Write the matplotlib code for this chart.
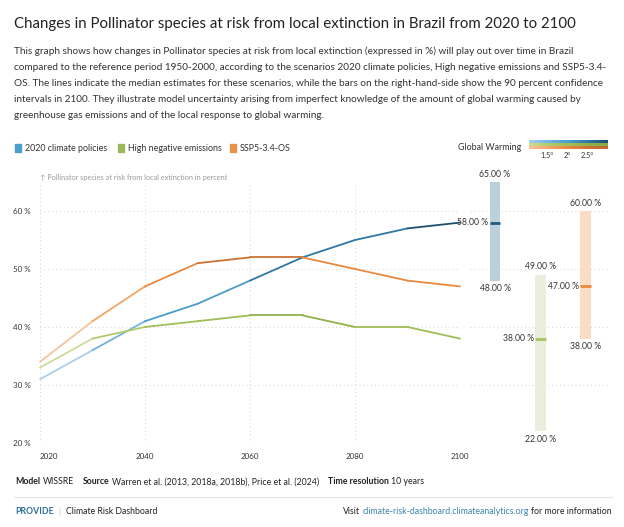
import numpy as np
import matplotlib.pyplot as plt
from matplotlib.colors import LinearSegmentedColormap

plt.rcParams['font.family'] = ['Lato', 'DejaVu Sans']

# dados
years = [2020, 2030, 2040, 2050, 2060, 2070, 2080, 2090, 2100]
policies = [31, 36, 41, 44, 48, 52, 55, 57, 58]
negative = [33, 38, 40, 41, 42, 42, 40, 40, 38]
ssp = [34, 41, 47, 51, 52, 52, 50, 48, 47]

scenarios = ['2020 climate policies', 'High negative emissions', 'SSP5-3.4-OS']
ci_low = [48, 22, 38]
ci_median = [58, 38, 47]
ci_high = [65, 49, 60]

xticks = [2020, 2040, 2060, 2080, 2100]
yticks = [20, 30, 40, 50, 60]

# cores
main_colors = ['#4a9fcf', '#9bb85a', '#e8934a']
shades = {
    0: ['#a8d0ea', '#6fb4de', '#4b9dcc', '#2f78a3', '#1f4e6e'],
    1: ['#cadc98', '#b2cb6c', '#a0bd58', '#93b24c', '#8aa844'],
    2: ['#f6c49a', '#f0a566', '#e8893d', '#cc7234', '#c0682e'],
}
seg_level = {
    0: [0, 1, 2, 2, 3, 3, 3, 4],
    1: [0, 1, 2, 2, 3, 3, 2, 2],
    2: [0, 1, 2, 3, 3, 2, 2, 2],
}
bar_fill = ['#bcd0dc', '#e9efdc', '#fbdcc4']
bar_mid = ['#1f5a80', '#a8c261', '#e88a3e']
txt = '#333333'
grid_c = '#d2d2d2'

W, H = 624, 527
fig = plt.figure(figsize=(W / 100, H / 100), dpi=100)
renderer = fig.canvas.get_renderer()

def fx(px):
    return px / W

def fy(py):
    return 1 - py / H

def chain(x0, y, parts, size):
    # escreve pedacos de texto um apos o outro
    x = x0
    for s, w, c, gap in parts:
        t = fig.text(fx(x), fy(y), s, fontsize=size, color=c, fontweight=w, va='center', ha='left')
        bb = t.get_window_extent(renderer)
        x = x + bb.width + gap
    return x

# titulo e descricao
fig.text(fx(14), fy(24), 'Changes in Pollinator species at risk from local extinction in Brazil from 2020 to 2100',
         fontsize=10.8, color='#222222', va='center', ha='left')
desc = [
    'This graph shows how changes in Pollinator species at risk from local extinction (expressed in %) will play out over time in Brazil',
    'compared to the reference period 1950-2000, according to the scenarios 2020 climate policies, High negative emissions and SSP5-3.4-',
    'OS. The lines indicate the median estimates for these scenarios, while the bars on the right-hand-side show the 90 percent confidence',
    'intervals in 2100. They illustrate model uncertainty arising from imperfect knowledge of the amount of global warming caused by',
    'greenhouse gas emissions and of the local response to global warming.',
]
for i, line in enumerate(desc):
    fig.text(fx(14), fy(51 + i * 16), line, fontsize=7.2, color=txt, va='center', ha='left')

# legenda
leg_x = [15, 118, 230]
for i, name in enumerate(scenarios):
    fig.patches.append(plt.Rectangle((fx(leg_x[i]), fy(152)), 6 / W, 8 / H,
                                     transform=fig.transFigure, color=main_colors[i]))
    fig.text(fx(leg_x[i] + 10), fy(148.5), name, fontsize=6.4, color=txt, va='center', ha='left')

fig.text(fx(521), fy(148), 'Global Warming', fontsize=6.4, color=txt, va='center', ha='right')
gax = fig.add_axes([fx(529), fy(149), 79 / W, 9 / H])
grad = np.linspace(0, 1, 100).reshape(1, -1)
for i in range(3):
    cmap = LinearSegmentedColormap.from_list('g%d' % i, shades[i])
    gax.imshow(grad, aspect='auto', cmap=cmap, extent=[0, 1, 2 - i, 3 - i], origin='lower')
gax.set_xlim(0, 1)
gax.set_ylim(0, 3)
gax.axis('off')
for lab, px in [('1.5°', 547), ('2°', 567), ('2.5°', 587)]:
    fig.text(fx(px), fy(156), lab, fontsize=5.3, color=txt, va='center', ha='center')

# eixo das linhas
ax = fig.add_axes([fx(40), fy(443), 420 / W, 260 / H])
ylim = (20, 20 + 260 / 5.8)
ax.set_xlim(2020, 2100)
ax.set_ylim(*ylim)
for i, series in enumerate([policies, negative, ssp]):
    for k in range(len(years) - 1):
        ax.plot(years[k:k + 2], series[k:k + 2], color=shades[i][seg_level[i][k]],
                lw=1.3, solid_capstyle='round', clip_on=False, zorder=3)
for s in ax.spines.values():
    s.set_visible(False)
ax.set_xticks(xticks)
ax.set_yticks(yticks)
ax.set_yticklabels(['%d %%' % v for v in yticks])
ax.tick_params(length=0, labelsize=5.8, colors=txt, pad=7)
ax.grid(True, linestyle=(0, (1, 3)), color=grid_c, lw=0.7)
ax.set_axisbelow(True)
labs = ax.get_xticklabels()
labs[0].set_ha('left')

fig.text(fx(40), fy(177), '\u2191 Pollinator species at risk from local extinction in percent',
         fontsize=5.3, color='#9a9a9a', va='center', ha='left')

# barras de incerteza
bx = fig.add_axes([fx(470), fy(443), 140 / W, 260 / H])
bx.set_ylim(*ylim)
bx.set_xlim(-0.55, 2.53)
pos = np.arange(len(scenarios))
bx.bar(pos, np.array(ci_high) - np.array(ci_low), bottom=ci_low, width=0.24,
       color=bar_fill, clip_on=False, zorder=2)
for i in pos:
    bx.plot([i - 0.12, i + 0.12], [ci_median[i], ci_median[i]], color=bar_mid[i], lw=2,
            solid_capstyle='butt', zorder=3, clip_on=False)
    bx.text(i, ci_high[i] + 0.6, '%.2f %%' % ci_high[i], fontsize=6.2, color=txt, ha='center', va='bottom')
    bx.text(i, ci_low[i] - 0.6, '%.2f %%' % ci_low[i], fontsize=6.2, color=txt, ha='center', va='top')
    bx.text(i - 0.15, ci_median[i], '%.2f %%' % ci_median[i], fontsize=6.2, color=txt, ha='right', va='center')
for s in bx.spines.values():
    s.set_visible(False)
bx.set_xticks([])
bx.set_yticks(yticks)
bx.set_yticklabels([])
bx.tick_params(length=0)
bx.grid(True, axis='y', linestyle=(0, (1, 3)), color=grid_c, lw=0.7)
bx.set_axisbelow(True)

# rodape
dark = '#222222'
fs = 6.3
chain(15, 482, [('Model', 'bold', dark, 2.5), ('WISSRE', 'normal', dark, 9),
                ('Source', 'bold', dark, 2.5),
                ('Warren et al. (2013, 2018a, 2018b), Price et al. (2024)', 'normal', dark, 9),
                ('Time resolution', 'bold', dark, 2.5), ('10 years', 'normal', dark, 0)], fs)
fig.add_artist(plt.Line2D([fx(14), fx(612)], [fy(497), fy(497)], color='#e6e6e6', lw=0.8))
chain(15, 511, [('PROVIDE', 'bold', '#2b6f95', 5), ('|', 'normal', '#cccccc', 5),
                ('Climate Risk Dashboard', 'normal', dark, 0)], fs)
t_end = fig.text(fx(612), fy(511), 'for more information', fontsize=fs, color=dark, va='center', ha='right')
x_end = 612 - t_end.get_window_extent(renderer).width - 2.5
t_link = fig.text(fx(x_end), fy(511), 'climate-risk-dashboard.climateanalytics.org', fontsize=fs,
                  color='#3a84ad', va='center', ha='right')
x_link = x_end - t_link.get_window_extent(renderer).width - 2.5
fig.text(fx(x_link), fy(511), 'Visit', fontsize=fs, color=dark, va='center', ha='right')

fig.savefig('out.png', dpi=100, facecolor='white')
